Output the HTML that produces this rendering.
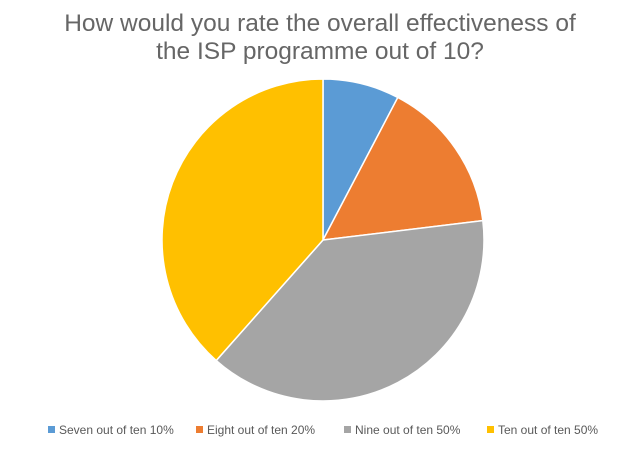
<!DOCTYPE html>
<html><head><meta charset="utf-8"><style>
body{margin:0;background:#fff;width:639px;height:445px;overflow:hidden;font-family:"Liberation Sans",sans-serif}
</style></head><body>
<svg width="639" height="445">
<text x="320" y="31" text-anchor="middle" font-size="24.5" fill="#666">How would you rate the overall effectiveness of</text>
<text x="320" y="59" text-anchor="middle" font-size="24.5" fill="#666">the ISP programme out of 10?</text>
<g id="slices"></g>
<g id="legend"></g>
</svg>
<script>
const categories=["Seven out of ten 10%","Eight out of ten 20%","Nine out of ten 50%","Ten out of ten 50%"];
const values=[10,20,50,50];
const colors=["#5B9BD5","#ED7D31","#A5A5A5","#FFC000"];
const cx=323,cy=240,r=161;
const ns="http://www.w3.org/2000/svg";
const total=values.reduce((a,b)=>a+b,0);
let a0=0;
const g=document.getElementById('slices');
values.forEach((v,i)=>{
  const a1=a0+v/total*2*Math.PI;
  const x0=cx+r*Math.sin(a0),y0=cy-r*Math.cos(a0),x1=cx+r*Math.sin(a1),y1=cy-r*Math.cos(a1);
  const p=document.createElementNS(ns,'path');
  p.setAttribute('d',`M${cx},${cy}L${x0},${y0}A${r},${r} 0 ${a1-a0>Math.PI?1:0} 1 ${x1},${y1}Z`);
  p.setAttribute('fill',colors[i]);p.setAttribute('stroke','#fff');p.setAttribute('stroke-width','1.5');
  
  
  g.appendChild(p);a0=a1;
});
const lg=document.getElementById('legend');
const lx=[48,196,344,487];
categories.forEach((c,i)=>{
  const s=document.createElementNS(ns,'rect');
  s.setAttribute('x',lx[i]);s.setAttribute('y',426);s.setAttribute('width',7);s.setAttribute('height',7);s.setAttribute('fill',colors[i]);
  
  
  lg.appendChild(s);
  const t=document.createElementNS(ns,'text');
  t.setAttribute('x',lx[i]+11);t.setAttribute('y',434);t.setAttribute('font-size','12');t.setAttribute('fill','#595959');
  t.textContent=c;
  
  
  lg.appendChild(t);
});
</script>
</body></html>
